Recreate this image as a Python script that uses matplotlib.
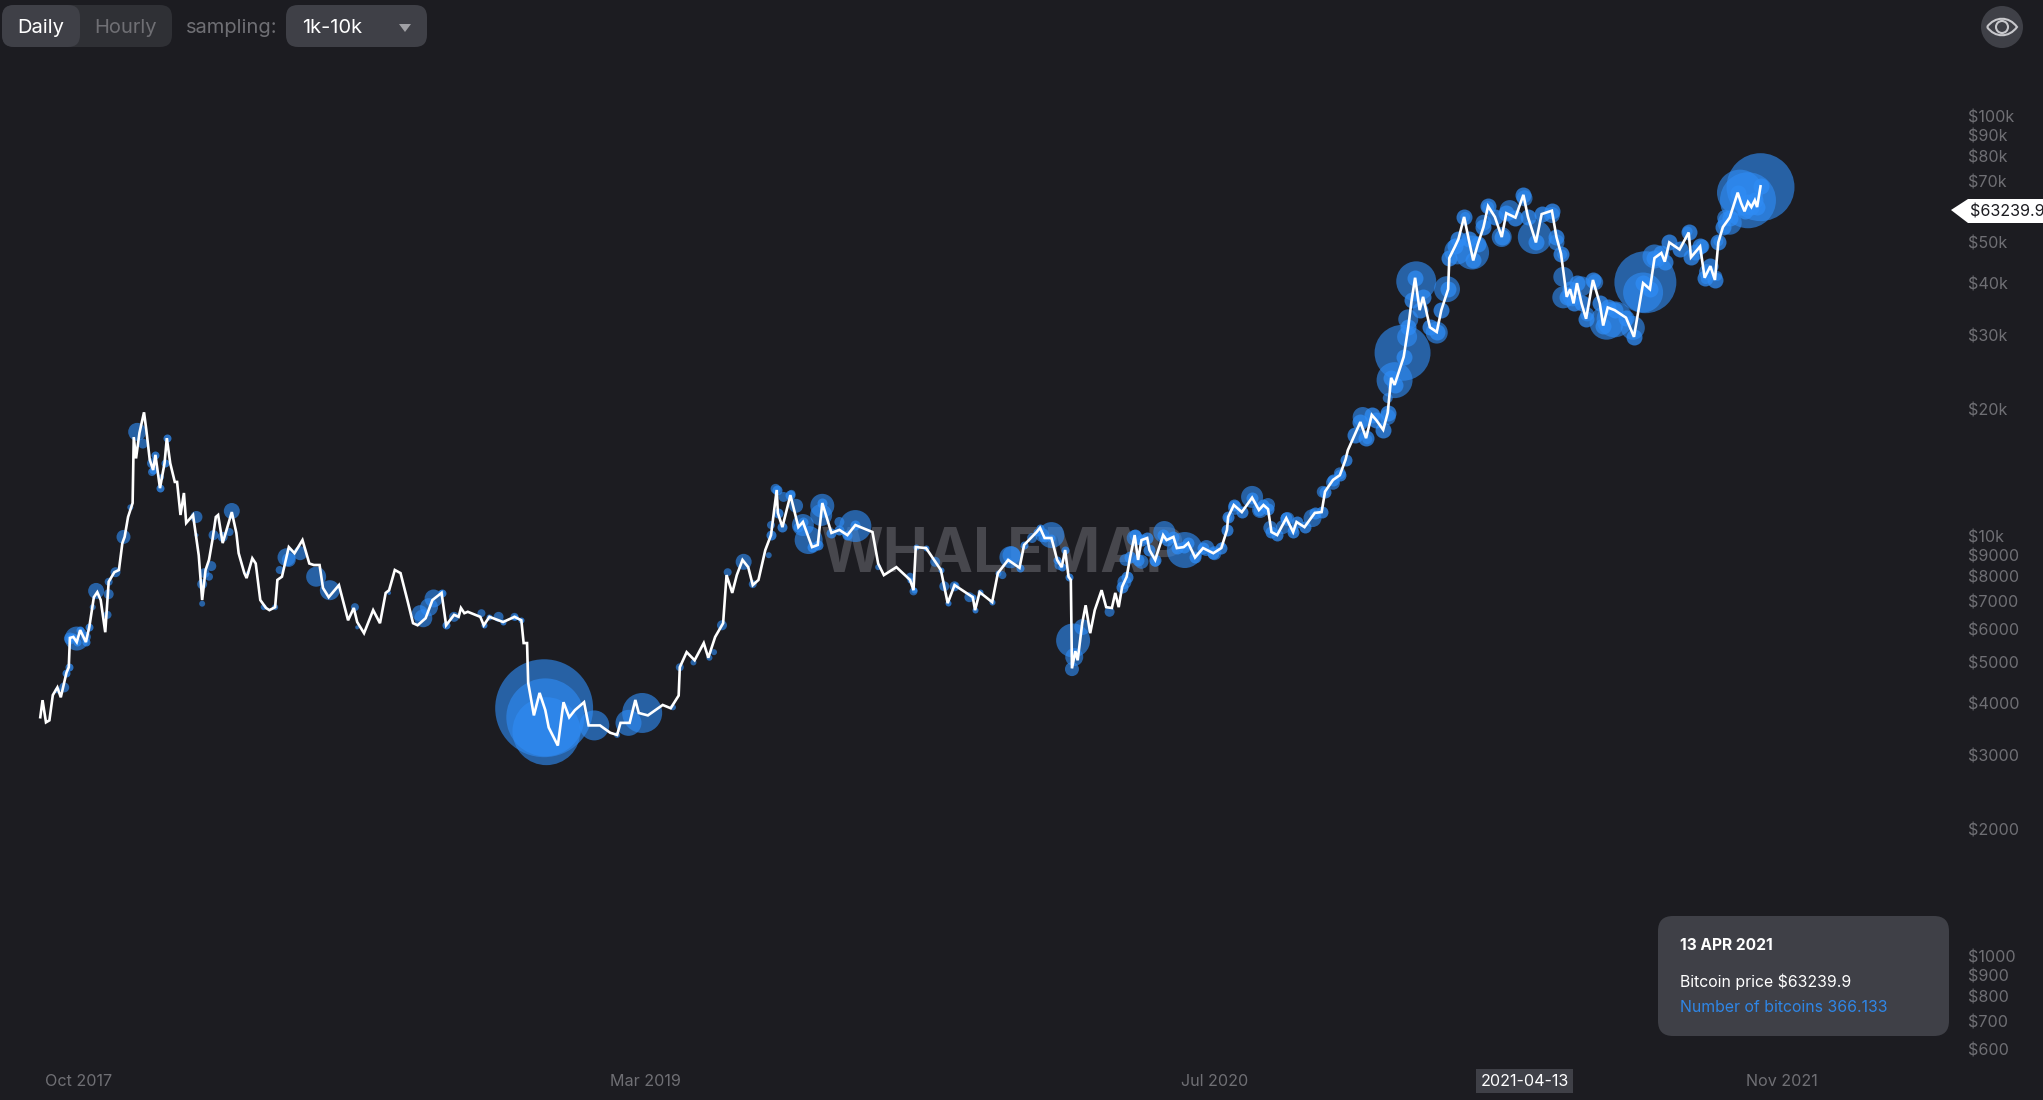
import numpy as np
import matplotlib.pyplot as plt
from matplotlib.patches import FancyBboxPatch, Circle, Polygon, PathPatch
from matplotlib.path import Path

plt.rcParams['font.family'] = ['Inter', 'DejaVu Sans']

# price line, days since mid Sep 2017
days = [2, 4, 7, 10, 13, 17, 20, 25, 27, 28, 31, 34, 37, 42, 45, 49, 52, 55, 59, 62, 67, 71, 74, 76, 79, 83, 84, 86, 89, 93,
        95, 98, 101, 103, 107, 111, 113, 116, 120, 122, 125, 128, 130, 136, 141, 144, 147, 150, 153, 156, 158, 162, 170, 174, 176, 181, 183, 188, 191, 195,
        200, 203, 208, 210, 214, 220, 225, 232, 238, 242, 247, 250, 255, 264, 269, 272, 277, 280, 286, 294, 300, 305, 308, 313, 318, 324, 329, 333, 340, 346,
        354, 358, 365, 369, 371, 374, 377, 388, 391, 396, 408, 418, 424, 426, 429, 430, 435, 440, 445, 448, 456, 461, 466, 471, 479, 483, 493, 502, 508, 511,
        519, 524, 527, 535, 548, 555, 562, 563, 569, 576, 584, 588, 594, 601, 604, 609, 613, 618, 623, 627, 632, 638, 643, 648, 649, 653, 660, 667, 671, 679,
        684, 688, 696, 703, 710, 717, 732, 737, 742, 753, 765, 768, 770, 779, 792, 798, 804, 820, 822, 826, 837, 842, 851, 861, 865, 876, 879, 883, 889, 894,
        898, 901, 904, 906, 907, 910, 912, 916, 919, 923, 927, 933, 937, 942, 945, 948, 951, 955, 958, 962, 965, 968, 973, 975, 980, 987, 990, 996, 999, 1005,
        1009, 1015, 1022, 1031, 1038, 1043, 1044, 1049, 1056, 1065, 1071, 1075, 1079, 1082, 1087, 1095, 1101, 1104, 1111, 1120, 1126, 1129, 1136, 1142, 1147, 1149, 1155, 1160, 1165, 1170,
        1174, 1180, 1184, 1187, 1190, 1198, 1202, 1205, 1208, 1212, 1215, 1221, 1227, 1231, 1237, 1238, 1243, 1246, 1251, 1255, 1259, 1263, 1268, 1272, 1278, 1284, 1288, 1296, 1303, 1307,
        1314, 1319, 1328, 1332, 1336, 1341, 1344, 1347, 1350, 1354, 1358, 1364, 1370, 1373, 1377, 1383, 1393, 1400, 1408, 1414, 1418, 1424, 1427, 1431, 1440, 1448, 1450, 1458, 1462, 1467,
        1471, 1474, 1478, 1484, 1491, 1494, 1497, 1500, 1503, 1506, 1508, 1511]
prices = [3703, 4066, 3600, 3640, 4180, 4360, 4130, 4730, 4870, 5720, 5750, 5590, 5970, 5590, 6070, 7150, 7350, 7040, 5900, 7780, 8200, 8300, 9620, 9950, 11100, 11980, 17200, 15300, 17600, 19700,
          17900, 15200, 14360, 15600, 13000, 14900, 17100, 14900, 13450, 13450, 11220, 12660, 10740, 11220, 9000, 7040, 8300, 8770, 9780, 11100, 11220, 9620, 11400, 10170, 9100, 8160, 7940, 8850, 8600, 7040,
          6740, 6660, 6770, 7860, 8000, 9410, 9100, 9780, 8600, 8530, 8530, 7520, 7150, 7640, 6770, 6300, 6740, 6240, 5870, 6660, 6200, 7320, 7430, 8300, 8160, 7040, 6200, 6130, 6370, 7040,
          7320, 6130, 6490, 6420, 6740, 6550, 6600, 6420, 6130, 6420, 6240, 6420, 6300, 5560, 5560, 4470, 3740, 4230, 3850, 3500, 3170, 4020, 3700, 3850, 4020, 3540, 3540, 3400, 3360, 3590,
          3590, 4070, 3790, 3740, 3960, 3890, 4170, 4870, 5290, 5060, 5560, 5130, 5750, 6200, 8070, 7320, 8070, 8770, 8430, 7640, 7860, 9260, 10050, 12870, 11350, 10500, 12510, 10500, 10800, 9410,
          9520, 11980, 10170, 10340, 10050, 10620, 10220, 8600, 8070, 8430, 7860, 7430, 9410, 9360, 8300, 6920, 7640, 7150, 6660, 7350, 6960, 8160, 8770, 8400, 9520, 10220, 10460, 9890, 9890, 8770,
          8430, 9260, 8000, 7860, 4840, 5320, 5060, 6200, 6840, 5870, 6660, 7430, 6770, 6740, 7320, 6770, 7570, 8000, 8890, 10050, 8770, 9780, 9890, 9260, 8770, 10050, 9780, 9950, 9360, 9410,
          9620, 8890, 9360, 9100, 9360, 10340, 11100, 11850, 11400, 12340, 11530, 11850, 11590, 10220, 10050, 11030, 10220, 10800, 10500, 11350, 11400, 12760, 13600, 13960, 15200, 16000, 17400, 18680, 17100, 19420,
          18870, 17900, 19650, 23800, 22900, 26700, 31400, 36500, 41200, 34500, 37100, 31400, 30600, 34500, 38700, 45900, 48900, 50900, 57500, 50900, 45300, 49500, 54400, 61000, 57500, 51500, 58700, 57300, 64900, 57500,
          50000, 58400, 59500, 51500, 47000, 37100, 38700, 35800, 40000, 35800, 32900, 40700, 35800, 31700, 35000, 34500, 33100, 29800, 40000, 38700, 45900, 47200, 45000, 50000, 48100, 52800, 46100, 48900, 41200, 43900,
          40700, 50000, 54400, 57300, 65700, 62000, 59300, 62400, 60700, 63000, 60700, 68000]

# bubbles, area is the number of bitcoins moved
bubble_days = [87, 92, 100, 100, 108, 139, 139, 81, 75, 68, 62, 51, 62, 61, 48, 34, 28, 42, 23, 17, 144, 144, 146, 152, 150, 154, 162, 170, 168, 184,
               208, 198, 218, 220, 230, 212, 244, 256, 278, 280, 308, 335, 338, 343, 347, 354, 365, 389, 404, 418, 444, 445, 446, 488, 518, 530, 508, 557, 563, 575,
               589, 593, 600, 605, 619, 627, 641, 643, 647, 654, 661, 665, 671, 676, 688, 687, 703, 717, 737, 765, 768, 787, 795, 804, 817, 853, 846, 872, 854, 889,
               896, 881, 907, 908, 909, 916, 940, 953, 954, 962, 968, 980, 988, 1006, 1025, 1032, 1039, 1044, 1050, 1065, 1072, 1079, 1081, 1092, 1096, 1101, 1118, 1127, 1136, 1142,
               1162, 1166, 1184, 1184, 1197, 1190, 1201, 1202, 1209, 1227, 1236, 1245, 1258, 1252, 1268, 1272, 1284, 1291, 1304, 1313, 1328, 1332, 1337, 1338, 1338, 1346, 1354, 1366, 1359, 1376,
               1383, 1399, 1410, 1408, 1418, 1447, 1454, 1460, 1464, 1463, 1473, 1474, 1484, 1480, 1493, 1500, 1511]
bubble_prices = [17700, 16600, 14900, 14200, 13800, 11100, 10050, 11700, 9950, 8200, 7780, 7400, 7270, 6490, 6770, 5700, 5700, 5750, 4360, 4290, 6900, 7680, 8160, 8480, 8000, 10050, 9950, 11470, 10220, 8160,
                 6770, 6770, 8900, 8770, 9100, 8300, 8000, 7430, 6770, 6060, 7320, 6550, 6370, 6770, 7100, 7320, 6420, 6550, 6420, 6420, 3890, 3700, 3430, 3540, 3590, 3790, 3360, 3910, 4870, 5000,
                 5130, 5290, 6130, 8200, 8680, 7680, 9000, 10620, 12950, 12390, 12600, 11800, 10620, 9780, 11800, 11220, 10800, 10560, 8430, 8000, 7380, 8680, 7590, 7590, 7150, 8900, 8070, 9890, 9000, 10050,
                 8530, 10050, 4820, 5640, 5150, 6070, 6600, 7770, 8770, 9890, 8680, 8680, 10220, 9260, 9360, 9100, 9520, 11030, 11670, 12390, 11530, 11850, 10460, 10500, 10980, 10340, 11030, 12740, 13390, 14100,
                 19200, 17000, 19200, 21300, 27300, 23500, 29800, 32800, 40400, 30500, 38700, 47600, 47300, 57500, 55700, 60700, 51500, 59700, 63700, 51500, 58100, 50000, 46800, 41400, 37000, 37200, 39300, 40200, 33700, 32200,
                 32800, 31300, 40200, 38000, 46300, 53100, 47300, 48900, 42500, 40900, 41600, 50300, 55700, 57200, 65700, 63000, 67700]
bubble_btc = [81, 25, 25, 16, 9, 36, 4, 9, 49, 25, 16, 64, 25, 16, 9, 144, 36, 25, 25, 9, 9, 25, 25, 25, 16, 25, 25, 64, 16, 4,
              9, 9, 81, 49, 49, 16, 100, 100, 16, 4, 4, 64, 81, 81, 81, 9, 25, 16, 25, 16, 2401, 1521, 1156, 225, 169, 400, 9, 9, 16, 9,
              9, 9, 25, 16, 64, 16, 9, 16, 25, 25, 16, 49, 121, 196, 144, 121, 25, 256, 9, 16, 16, 25, 25, 25, 25, 121, 16, 25, 81, 169,
              25, 49, 49, 289, 81, 64, 25, 49, 36, 64, 49, 25, 121, 324, 64, 49, 9, 16, 49, 121, 64, 49, 49, 49, 49, 25, 81, 36, 49, 36,
              100, 25, 64, 25, 784, 324, 100, 100, 400, 121, 169, 169, 289, 25, 64, 36, 100, 100, 64, 289, 64, 64, 25, 100, 121, 100, 100, 64, 49, 289,
              324, 144, 961, 400, 144, 25, 64, 49, 64, 25, 25, 25, 144, 64, 529, 784, 1156]

# stretches where small transfers hug the line: first day, last day, bitcoins per day sampled
halo_first = [25, 100, 350, 390, 640, 760, 860, 950, 1150]
halo_last = [45, 115, 360, 425, 730, 860, 905, 1147, 1511]
halo_btc = [16, 16, 16, 9, 25, 9, 16, 36, 64]

y_ticks = [100000, 90000, 80000, 70000, 50000, 40000, 30000, 20000, 10000, 9000, 8000, 7000, 6000, 5000, 4000, 3000, 2000, 1000, 900, 800, 700, 600]
y_labels = ['$100k', '$90k', '$80k', '$70k', '$50k', '$40k', '$30k', '$20k', '$10k', '$9000', '$8000', '$7000', '$6000', '$5000', '$4000', '$3000', '$2000', '$1000', '$900', '$800', '$700', '$600']
x_ticks = [36, 533, 1032, 1304, 1530]
x_labels = ['Oct 2017', 'Mar 2019', 'Jul 2020', '2021-04-13', 'Nov 2021']

bg = '#1c1c21'
panel = '#3f4047'
grey = '#6f6f74'
blue = '#2f8cf5'

fig = plt.figure(figsize=(20.43, 11), dpi=100, facecolor=bg)
ax = fig.add_axes([0, 0, 1, 1], facecolor=bg)

ax.text(0.491, 0.495, 'WHALEMAP', transform=ax.transAxes, color='#47474d', fontsize=43.5, fontweight='bold',
        ha='center', va='center', zorder=1)
ax.scatter(bubble_days, bubble_prices, s=np.array(bubble_btc) * 2.07, color=blue, alpha=0.62, linewidths=0, zorder=2)

line_days = np.array(days)
line_prices = np.array(prices)
for first, last, btc in zip(halo_first, halo_last, halo_btc):
    on = (line_days >= first) & (line_days <= last)
    ax.scatter(line_days[on], line_prices[on], s=btc * 2.07, color=blue, alpha=0.75, linewidths=0, zorder=2)

ax.plot(days, prices, color='white', lw=1.9, solid_joinstyle='miter', zorder=3)

ax.set_yscale('log')
ax.set_xlim(-33.33, 1758.8)
ax.set_ylim(10 ** (4 - 564 / 420), 10 ** (4 + 536 / 420))
for s in ax.spines.values():
    s.set_visible(False)

ax.yaxis.tick_right()
ax.set_yticks(y_ticks)
ax.set_yticklabels(y_labels)
ax.minorticks_off()
ax.tick_params(axis='y', which='both', length=0, pad=-54, labelsize=11.6, labelcolor=grey)
ax.set_xticks(x_ticks)
ax.set_xticklabels(x_labels)
ax.tick_params(axis='x', length=0, pad=-19, labelsize=11.6, labelcolor=grey)
cross = ax.get_xticklabels()[3]
cross.set_color('white')
cross.set_bbox(dict(facecolor=panel, edgecolor='none', pad=3))

# controls, tooltip and price tag sit on top in pixel coordinates
ui = fig.add_axes([0, 0, 1, 1], facecolor='none')
ui.set_xlim(0, 2043)
ui.set_ylim(1100, 0)
ui.axis('off')


def box(x0, y0, x1, y1, r, color):
    ui.add_patch(FancyBboxPatch((x0 + r, y0 + r), x1 - x0 - 2 * r, y1 - y0 - 2 * r,
                                boxstyle='round,pad=%d,rounding_size=%d' % (r, r), fc=color, ec='none'))


box(2, 5, 172, 47, 12, '#2f3035')
box(2, 5, 80, 47, 12, panel)
box(286, 5, 427, 47, 12, panel)
ui.text(41, 28, 'Daily', color='white', fontsize=14.5, ha='center', va='center')
ui.text(126, 28, 'Hourly', color=grey, fontsize=14.5, ha='center', va='center')
ui.text(186, 28, 'sampling:', color=grey, fontsize=14.5, va='center')
ui.text(302, 28, '1k-10k', color='white', fontsize=14.5, va='center')
ui.add_patch(Polygon([(399, 24), (411, 24), (405, 32)], fc='#a0a0a5', ec='none'))

ui.add_patch(Circle((2002, 27), 21, fc=panel, ec='none'))
eye = Path([(1987, 27), (1995, 16), (2009, 16), (2017, 27), (2009, 38), (1995, 38), (1987, 27)],
           [Path.MOVETO, Path.CURVE4, Path.CURVE4, Path.CURVE4, Path.CURVE4, Path.CURVE4, Path.CURVE4])
ui.add_patch(PathPatch(eye, fc='none', ec='#c8c8cc', lw=1.5))
ui.add_patch(Circle((2002, 27), 6, fc='none', ec='#c8c8cc', lw=1.5))

ui.add_patch(Polygon([(1951, 210), (1968, 199), (2043, 199), (2043, 223), (1968, 223)], fc='white', ec='none'))
ui.text(1970, 212, '$63239.9', color='#1c1c21', fontsize=11.6, va='center')

box(1658, 916, 1949, 1036, 15, panel)
ui.text(1680, 945, '13 APR 2021', color='white', fontsize=11.2, fontweight='bold', va='center')
ui.text(1680, 982, 'Bitcoin price $63239.9', color='white', fontsize=11.4, va='center')
ui.text(1680, 1007, 'Number of bitcoins 366.133', color='#2f86e6', fontsize=11.4, va='center')

plt.savefig('out.png', dpi=100, facecolor=bg)
